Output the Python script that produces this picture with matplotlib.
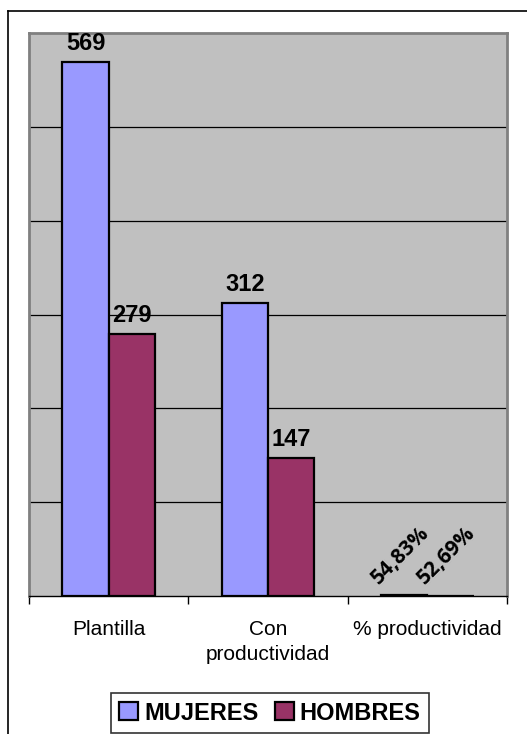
import matplotlib
matplotlib.use("Agg")
import matplotlib.pyplot as plt
from matplotlib.patches import Patch
from matplotlib.lines import Line2D
import numpy as np

plt.rcParams['font.family'] = ['Liberation Sans', 'DejaVu Sans']

categories = ["Plantilla", "Con\nproductividad", "% productividad"]
series_names = ["MUJERES", "HOMBRES"]
mujeres = [569, 312, 0.5483]
hombres = [279, 147, 0.5269]
labels_mujeres = ["569", "312", "54,83%"]
labels_hombres = ["279", "147", "52,69%"]
colors = ["#9999FF", "#993366"]

W, H = 527, 734
fig = plt.figure(figsize=(W / 100, H / 100), dpi=100)

# outer chart border (left and top visible)
fig.add_artist(Line2D([8 / W, 8 / W], [0, 1 - 11 / H], transform=fig.transFigure, color="black", lw=1.2))
fig.add_artist(Line2D([8 / W, 1], [1 - 11 / H, 1 - 11 / H], transform=fig.transFigure, color="black", lw=1.2))

ax = fig.add_axes([29 / W, 1 - 596 / H, (507 - 29) / W, (596 - 33) / H])
ax.set_facecolor("#C0C0C0")

x = np.arange(len(categories))
w = 0.29
b1 = ax.bar(x - w / 2, mujeres, w, color=colors[0], edgecolor="black", linewidth=1.6, zorder=3, label=series_names[0])
b2 = ax.bar(x + w / 2, hombres, w, color=colors[1], edgecolor="black", linewidth=1.6, zorder=3, label=series_names[1])

ax.set_ylim(0, 600)
ax.set_xlim(-0.5, 2.5)
ax.set_yticks([100, 200, 300, 400, 500])
ax.yaxis.grid(True, color="black", linewidth=0.9, zorder=1)
ax.tick_params(axis="y", left=False, labelleft=False)

ax.set_xticks([-0.5, 0.5, 1.5, 2.5])
ax.set_xticklabels([])
ax.set_xticks(x, minor=True)
ax.set_xticklabels(categories, minor=True, fontsize=15, linespacing=1.45)
ax.tick_params(axis="x", which="major", direction="out", length=6, color="black", width=1)
ax.tick_params(axis="x", which="minor", length=0, pad=17)

for s in ["left", "right", "top"]:
    ax.spines[s].set_color("#808080")
    ax.spines[s].set_linewidth(2)
ax.spines["bottom"].set_color("black")
ax.spines["bottom"].set_linewidth(1)

for i in range(2):
    for bars, labs in ((b1, labels_mujeres), (b2, labels_hombres)):
        r = bars[i]
        ax.annotate(labs[i], xy=(r.get_x() + r.get_width() / 2, r.get_height()),
                    xytext=(0, 5), textcoords="offset points", ha="center", va="bottom",
                    fontsize=17, fontweight="bold", zorder=5)

for bars, labs in ((b1, labels_mujeres), (b2, labels_hombres)):
    r = bars[2]
    ax.annotate(labs[2], xy=(r.get_x() + r.get_width() / 2, r.get_height()),
                xytext=(-3, 29), textcoords="offset points", ha="center", va="center",
                rotation=45, fontsize=15, fontweight="bold", family=["Open Sans", "DejaVu Sans"], zorder=5)

handles = [Patch(facecolor=colors[0], edgecolor="black", linewidth=1.6),
           Patch(facecolor=colors[1], edgecolor="black", linewidth=1.6)]
leg = fig.legend(handles, series_names, loc="center", bbox_to_anchor=(270 / W, 1 - 713 / H),
                 ncol=2, frameon=True, fancybox=False, shadow=False, edgecolor="black",
                 prop={"weight": "bold", "size": 17}, handlelength=0.8, handleheight=0.8,
                 handletextpad=0.25, columnspacing=0.7, borderpad=0.35)
leg.get_frame().set_linewidth(1.2)

fig.savefig("out.png", dpi=100, facecolor="white")
